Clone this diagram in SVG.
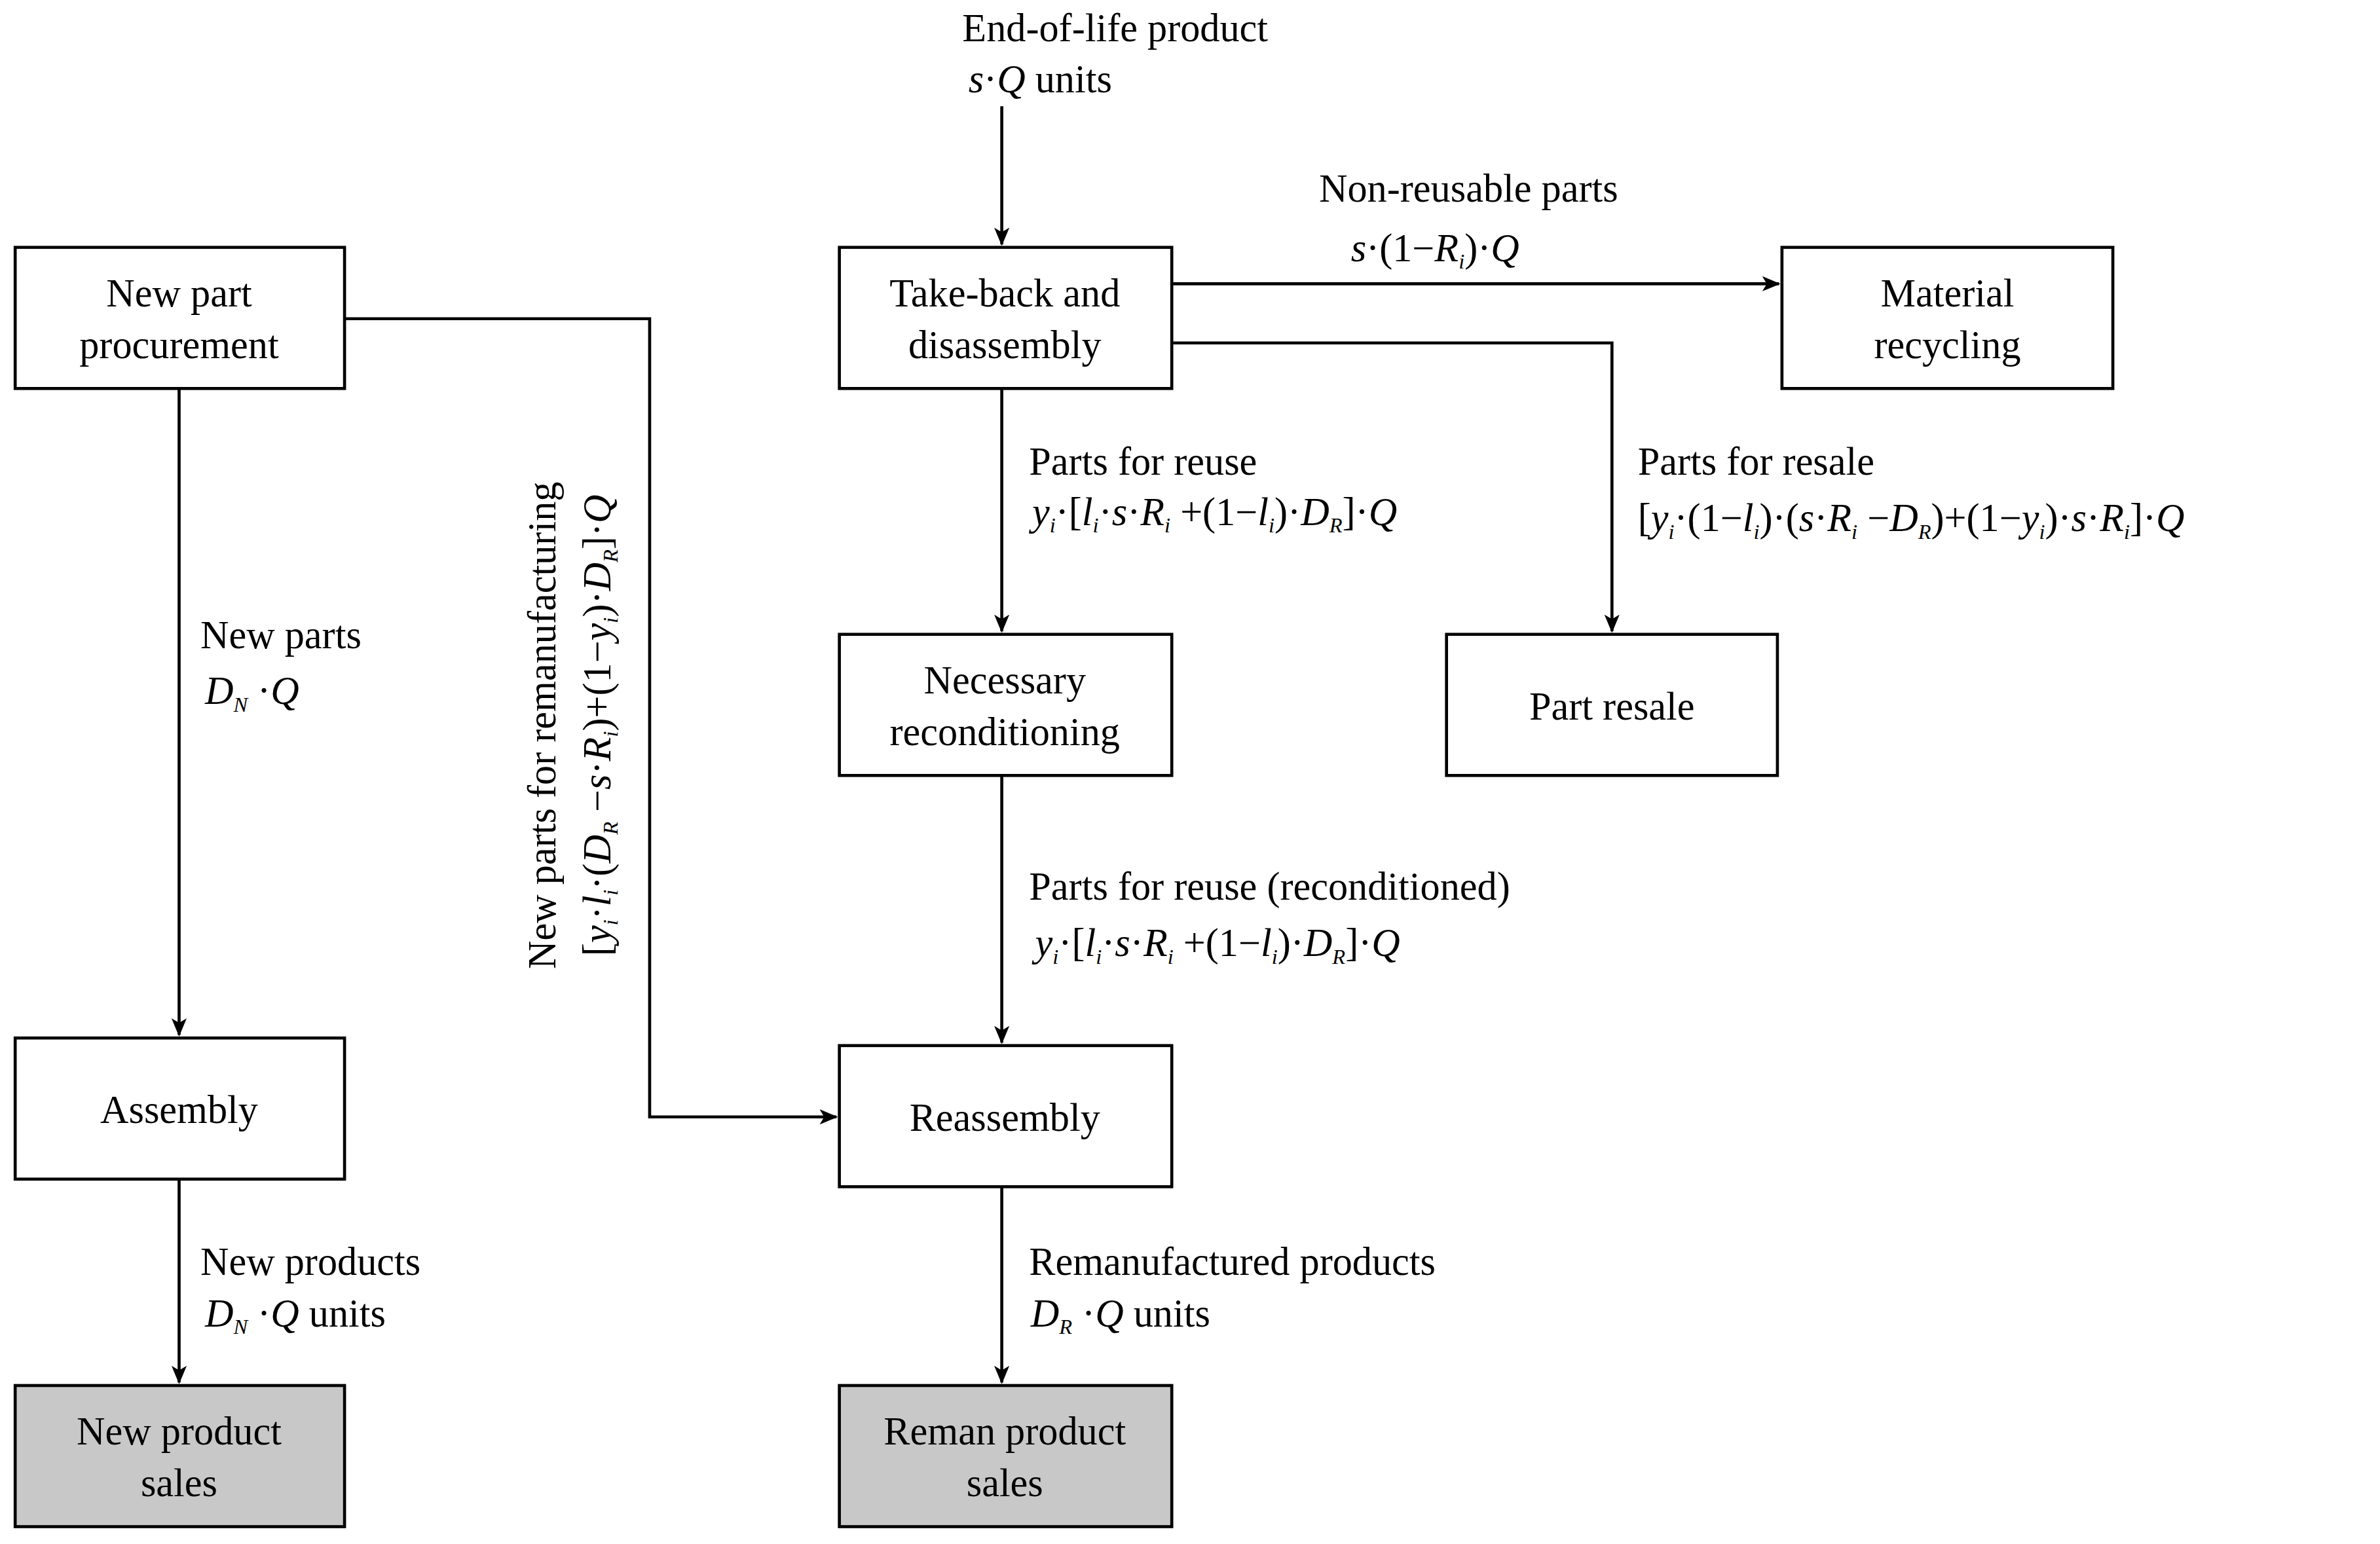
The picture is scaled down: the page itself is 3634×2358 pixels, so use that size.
<svg xmlns="http://www.w3.org/2000/svg" width="3634" height="2358" viewBox="0 0 3634 2358">
<style>
.b{fill:#fff;stroke:#000;stroke-width:2}
.g{fill:#c8c8c8;stroke:#000;stroke-width:2}
text{font-family:"Liberation Serif",serif;font-size:26px;fill:#000}
.c{text-anchor:middle}
.i{font-style:italic}
.s{font-size:14px;font-style:italic}
.e path{fill:none;stroke:#000;stroke-width:2;marker-end:url(#a)}
</style>
<defs><marker id="a" viewBox="0 0 12 10" refX="11" refY="5" markerWidth="12" markerHeight="10" markerUnits="userSpaceOnUse" orient="auto"><path d="M0,0 L12,5 L0,10 L3,5 Z" fill="#000"/></marker></defs>
<rect width="3634" height="2358" fill="#fff"/>
<g transform="scale(2.3176)">
<g class="e" id="connectors">
<path d="M660,70 V161"/>
<path d="M772,187 H1172"/>
<path d="M772,226 H1062 V416"/>
<path d="M660,256 V416"/>
<path d="M660,511 V687"/>
<path d="M660,782 V911"/>
<path d="M227,210 H428 V736 H551"/>
<path d="M118,256 V682"/>
<path d="M118,777 V911"/>
</g>
<g id="n1"><rect class="b" x="10" y="163" width="217" height="93"/><text class="c" x="118" y="202">New part</text><text class="c" x="118" y="236">procurement</text></g>
<g id="n2"><rect class="b" x="553" y="163" width="219" height="93"/><text class="c" x="662" y="202">Take-back and</text><text class="c" x="662" y="236">disassembly</text></g>
<g id="n3"><rect class="b" x="1174" y="163" width="218" height="93"/><text class="c" x="1283" y="202">Material</text><text class="c" x="1283" y="236">recycling</text></g>
<g id="n4"><rect class="b" x="553" y="418" width="219" height="93"/><text class="c" x="662" y="457">Necessary</text><text class="c" x="662" y="491">reconditioning</text></g>
<g id="n5"><rect class="b" x="953" y="418" width="218" height="93"/><text class="c" x="1062" y="474">Part resale</text></g>
<g id="n6"><rect class="b" x="10" y="684" width="217" height="93"/><text class="c" x="118" y="740">Assembly</text></g>
<g id="n7"><rect class="b" x="553" y="689" width="219" height="93"/><text class="c" x="662" y="745">Reassembly</text></g>
<g id="n8"><rect class="g" x="10" y="913" width="217" height="93"/><text class="c" x="118" y="952">New product</text><text class="c" x="118" y="986">sales</text></g>
<g id="n9"><rect class="g" x="553" y="913" width="219" height="93"/><text class="c" x="662" y="952">Reman product</text><text class="c" x="662" y="986">sales</text></g>
<g id="labels">
<text x="634" y="27">End-of-life product</text>
<text x="638" y="61"><tspan class="i">s</tspan>·<tspan class="i">Q</tspan>  units</text>
<text x="869" y="133">Non-reusable parts</text>
<text x="890" y="172"><tspan class="i">s</tspan>·(1−<tspan class="i">R</tspan><tspan class="s" dy="5">i</tspan><tspan dy="-5">)·</tspan><tspan class="i">Q</tspan></text>
<text x="678" y="313">Parts for reuse</text>
<text x="680" y="346"><tspan class="i">y</tspan><tspan class="s" dy="5">i</tspan><tspan dy="-5">·[</tspan><tspan class="i">l</tspan><tspan class="s" dy="5">i</tspan><tspan dy="-5">·</tspan><tspan class="i">s</tspan>·<tspan class="i">R</tspan><tspan class="s" dy="5">i</tspan><tspan dy="-5"> +(1−</tspan><tspan class="i">l</tspan><tspan class="s" dy="5">i</tspan><tspan dy="-5">)·</tspan><tspan class="i">D</tspan><tspan class="s" dy="5">R</tspan><tspan dy="-5">]·</tspan><tspan class="i">Q</tspan></text>
<text x="1079" y="313">Parts for resale</text>
<text x="1079" y="350">[<tspan class="i">y</tspan><tspan class="s" dy="5">i</tspan><tspan dy="-5">·(1−</tspan><tspan class="i">l</tspan><tspan class="s" dy="5">i</tspan><tspan dy="-5">)·(</tspan><tspan class="i">s</tspan>·<tspan class="i">R</tspan><tspan class="s" dy="5">i</tspan><tspan dy="-5"> −</tspan><tspan class="i">D</tspan><tspan class="s" dy="5">R</tspan><tspan dy="-5">)+(1−</tspan><tspan class="i">y</tspan><tspan class="s" dy="5">i</tspan><tspan dy="-5">)·</tspan><tspan class="i">s</tspan>·<tspan class="i">R</tspan><tspan class="s" dy="5">i</tspan><tspan dy="-5">]·</tspan><tspan class="i">Q</tspan></text>
<text x="132" y="427">New parts</text>
<text x="135" y="464"><tspan class="i">D</tspan><tspan class="s" dy="5">N</tspan><tspan dy="-5"> ·</tspan><tspan class="i">Q</tspan></text>
<text x="678" y="593">Parts for reuse (reconditioned)</text>
<text x="682" y="630"><tspan class="i">y</tspan><tspan class="s" dy="5">i</tspan><tspan dy="-5">·[</tspan><tspan class="i">l</tspan><tspan class="s" dy="5">i</tspan><tspan dy="-5">·</tspan><tspan class="i">s</tspan>·<tspan class="i">R</tspan><tspan class="s" dy="5">i</tspan><tspan dy="-5"> +(1−</tspan><tspan class="i">l</tspan><tspan class="s" dy="5">i</tspan><tspan dy="-5">)·</tspan><tspan class="i">D</tspan><tspan class="s" dy="5">R</tspan><tspan dy="-5">]·</tspan><tspan class="i">Q</tspan></text>
<text x="132" y="840">New products</text>
<text x="135" y="874"><tspan class="i">D</tspan><tspan class="s" dy="5">N</tspan><tspan dy="-5"> ·</tspan><tspan class="i">Q</tspan> units</text>
<text x="678" y="840">Remanufactured products</text>
<text x="679" y="874"><tspan class="i">D</tspan><tspan class="s" dy="5">R</tspan><tspan dy="-5"> ·</tspan><tspan class="i">Q</tspan> units</text>
<g transform="translate(366,478) rotate(-90)"><text class="c" x="0" y="0">New parts for remanufacturing</text>
<text class="c" x="0" y="36">[<tspan class="i">y</tspan><tspan class="s" dy="5">i</tspan><tspan dy="-5">·</tspan><tspan class="i">l</tspan><tspan class="s" dy="5">i</tspan><tspan dy="-5">·(</tspan><tspan class="i">D</tspan><tspan class="s" dy="5">R</tspan><tspan dy="-5"> −</tspan><tspan class="i">s</tspan>·<tspan class="i">R</tspan><tspan class="s" dy="5">i</tspan><tspan dy="-5">)+(1−</tspan><tspan class="i">y</tspan><tspan class="s" dy="5">i</tspan><tspan dy="-5">)·</tspan><tspan class="i">D</tspan><tspan class="s" dy="5">R</tspan><tspan dy="-5">]·</tspan><tspan class="i">Q</tspan></text></g>
</g>
</g>
</svg>
